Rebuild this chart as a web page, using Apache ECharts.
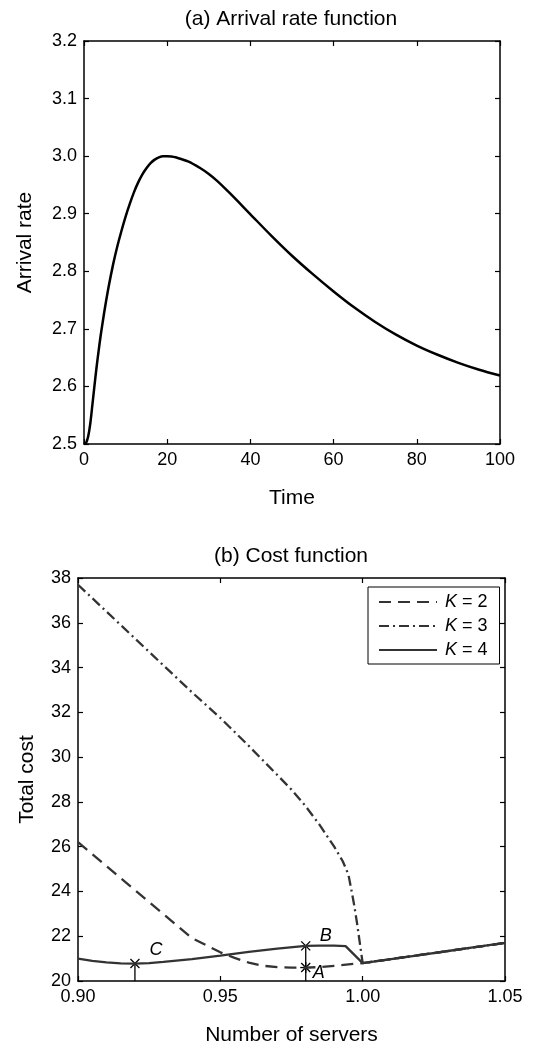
<!DOCTYPE html>
<html>
<head>
<meta charset="utf-8">
<script src="https://cdn.jsdelivr.net/npm/echarts@6/dist/echarts.min.js"></script>
<style>
html,body{margin:0;padding:0;background:#fff;}
#chart{width:535px;height:1047px;}
</style>
</head>
<body>
<div id="chart"></div>
<script>
// ---- Panel (a): arrival rate ----
const timeVals = [0,0.5,1,1.5,2,2.5,3,3.5,4,4.5,5,6,7,8,9,10,11,12,13,14,15,16,17,18,19,20,21,22,25,28,30,32,35,40,45,50,55,60,65,70,75,80,85,90,95,100];
const arrivalVals = [2.5,2.502,2.513,2.535,2.567,2.6,2.632,2.661,2.688,2.712,2.735,2.776,2.812,2.843,2.87,2.895,2.917,2.937,2.954,2.968,2.979,2.988,2.994,2.998,3.0,3.0,2.9995,2.998,2.991,2.979,2.969,2.957,2.936,2.899,2.862,2.827,2.795,2.765,2.737,2.712,2.690,2.671,2.655,2.641,2.629,2.619];
const timeTicks = [0,20,40,60,80,100];
const rateTicks = [2.5,2.6,2.7,2.8,2.9,3.0,3.1,3.2];

// ---- Panel (b): cost function ----
const k2Servers = [0.90,0.91,0.92,0.93,0.94,0.945,0.95,0.955,0.96,0.965,0.97,0.975,0.98,0.985,0.99,0.995,1.0,1.05];
const k2Cost    = [26.2,25.13,24.06,22.99,21.92,21.6,21.28,21.03,20.82,20.68,20.62,20.6,20.6,20.62,20.68,20.74,20.8,21.7];
const k3Servers = [0.90,0.91,0.92,0.93,0.94,0.95,0.96,0.97,0.975,0.98,0.985,0.99,0.993,0.995,0.996,0.997,0.998,0.999,1.0,1.05];
const k3Cost    = [37.7,36.5,35.3,34.1,32.9,31.75,30.5,29.2,28.55,27.8,26.95,26.0,25.35,24.75,24.1,23.4,22.6,21.7,20.8,21.7];
const k4Servers = [0.90,0.905,0.91,0.915,0.92,0.925,0.93,0.94,0.95,0.96,0.97,0.98,0.985,0.99,0.994,1.0,1.01,1.02,1.03,1.04,1.05];
const k4Cost    = [21.0,20.9,20.83,20.79,20.78,20.8,20.85,20.98,21.13,21.3,21.45,21.57,21.58,21.58,21.56,20.8,20.98,21.16,21.34,21.52,21.7];
const seriesNames = ['K = 2','K = 3','K = 4'];
const serverTicks = [0.90,0.95,1.00,1.05];
const costTicks = [20,22,24,26,28,30,32,34,36,38];

const markerLabels = ['A','B','C'];
const markerServers = [0.98,0.98,0.92];
const markerCost = [20.6,21.57,20.78];
const markerShapes = ['star','cross','cross'];
const markerStem = [false,true,true];

const FONT = 'Liberation Sans, Arial, Helvetica, sans-serif';
const TICK = 18, LAB = 21;
const zip = (a,b) => a.map((v,i)=>[v,b[i]]);

function axisCommon(showLabel, fmt) {
  return {
    axisLine:{show:true, onZero:false, lineStyle:{color:'#000', width:1.5}},
    axisTick:{show:true, inside:true, length:5, lineStyle:{color:'#000', width:1.2}},
    axisLabel:{show:showLabel, color:'#000', fontFamily:FONT, fontSize:TICK, margin:7, formatter:fmt},
    splitLine:{show:false}
  };
}

const chart = echarts.init(document.getElementById('chart'), null, {renderer:'canvas'});

const tFmt = v => String(Math.round(v));
const rFmt = v => v.toFixed(1);
const sFmt = v => v.toFixed(2);
const cFmt = v => String(Math.round(v));
const nameStyle = {color:'#000', fontFamily:FONT, fontSize:LAB};

const option = {
  backgroundColor:'#fff',
  animation:false,
  graphic:[
    {type:'text', x:291, y:19, style:{text:'(a) Arrival rate function', font:LAB+'px '+FONT, fill:'#000', align:'center', verticalAlign:'middle'}},
    {type:'text', x:291, y:556, style:{text:'(b) Cost function', font:LAB+'px '+FONT, fill:'#000', align:'center', verticalAlign:'middle'}}
  ],
  grid:[
    {left:84, top:41, width:416, height:403},
    {left:78, top:578, width:427, height:404}
  ],
  xAxis:[
    Object.assign({type:'value', gridIndex:0, position:'bottom', min:timeTicks[0], max:timeTicks[timeTicks.length-1], interval:20,
      name:'Time', nameLocation:'middle', nameGap:44, nameTextStyle:nameStyle}, axisCommon(true, tFmt)),
    Object.assign({type:'value', gridIndex:0, position:'top', min:timeTicks[0], max:timeTicks[timeTicks.length-1], interval:20}, axisCommon(false)),
    Object.assign({type:'value', gridIndex:1, position:'bottom', min:serverTicks[0], max:serverTicks[serverTicks.length-1], interval:0.05,
      name:'Number of servers', nameLocation:'middle', nameGap:44, nameTextStyle:nameStyle}, axisCommon(true, sFmt)),
    Object.assign({type:'value', gridIndex:1, position:'top', min:serverTicks[0], max:serverTicks[serverTicks.length-1], interval:0.05}, axisCommon(false))
  ],
  yAxis:[
    Object.assign({type:'value', gridIndex:0, position:'left', min:rateTicks[0], max:rateTicks[rateTicks.length-1], interval:0.1,
      name:'Arrival rate', nameLocation:'middle', nameGap:48, nameTextStyle:nameStyle}, axisCommon(true, rFmt)),
    Object.assign({type:'value', gridIndex:0, position:'right', min:rateTicks[0], max:rateTicks[rateTicks.length-1], interval:0.1}, axisCommon(false)),
    Object.assign({type:'value', gridIndex:1, position:'left', min:costTicks[0], max:costTicks[costTicks.length-1], interval:2,
      name:'Total cost', nameLocation:'middle', nameGap:40, nameTextStyle:nameStyle}, axisCommon(true, cFmt)),
    Object.assign({type:'value', gridIndex:1, position:'right', min:costTicks[0], max:costTicks[costTicks.length-1], interval:2}, axisCommon(false))
  ],
  legend:{
    data:seriesNames,
    orient:'vertical',
    left:368, top:587,
    padding:[6,12,5,10],
    itemGap:6,
    itemWidth:58,
    itemHeight:18,
    backgroundColor:'#fff',
    borderColor:'#000',
    borderWidth:1,
    borderRadius:0,
    itemStyle:{opacity:0},
    textStyle:{color:'#000', fontFamily:FONT, fontSize:TICK, padding:[0,0,0,3],
      rich:{i:{fontStyle:'italic', fontFamily:FONT, fontSize:TICK, color:'#000'}, n:{fontFamily:FONT, fontSize:TICK, color:'#000'}}},
    formatter: name => '{i|K}{n|' + name.slice(1) + '}'
  },
  series:[
    {type:'line', name:'arrival', xAxisIndex:0, yAxisIndex:0, data:zip(timeVals, arrivalVals), showSymbol:false, symbol:'none',
      smooth:0.3, lineStyle:{color:'#000', width:2.5}},
    {type:'line', name:seriesNames[0], xAxisIndex:2, yAxisIndex:2, data:zip(k2Servers, k2Cost), symbol:'none', smooth:false,
      itemStyle:{color:'#333'}, lineStyle:{color:'#333', width:2.3, type:[12,7]}},
    {type:'line', name:seriesNames[1], xAxisIndex:2, yAxisIndex:2, data:zip(k3Servers, k3Cost), symbol:'none', smooth:false,
      itemStyle:{color:'#333'}, lineStyle:{color:'#333', width:2.3, type:[10,4,2,4]}},
    {type:'line', name:seriesNames[2], xAxisIndex:2, yAxisIndex:2, data:zip(k4Servers, k4Cost), symbol:'none', smooth:false,
      itemStyle:{color:'#333'}, lineStyle:{color:'#333', width:2.3}},
    {type:'custom', name:'markers', xAxisIndex:2, yAxisIndex:2, clip:false,
      data: markerServers.map((x,i)=>[x, markerCost[i], i]),
      renderItem:(params, api) => {
        const i = api.value(2);
        const p = api.coord([api.value(0), api.value(1)]);
        const base = api.coord([api.value(0), costTicks[0]]);
        const s = 4.5;
        const st = {stroke:'#000', lineWidth:1.3};
        const ch = [];
        if (markerStem[i]) ch.push({type:'line', shape:{x1:p[0], y1:base[1], x2:p[0], y2:p[1]}, style:st});
        ch.push({type:'line', shape:{x1:p[0]-s, y1:p[1]-s, x2:p[0]+s, y2:p[1]+s}, style:st});
        ch.push({type:'line', shape:{x1:p[0]-s, y1:p[1]+s, x2:p[0]+s, y2:p[1]-s}, style:st});
        if (markerShapes[i] === 'star') {
          ch.push({type:'line', shape:{x1:p[0], y1:p[1]-s-1, x2:p[0], y2:p[1]+s+1}, style:st});
          ch.push({type:'line', shape:{x1:p[0]-s-1, y1:p[1], x2:p[0]+s+1, y2:p[1]}, style:st});
        }
        const off = i===0 ? [13,5] : (i===1 ? [20,-10] : [21,-14]);
        ch.push({type:'text', x:p[0]+off[0], y:p[1]+off[1],
          style:{text:markerLabels[i], font:'italic '+TICK+'px '+FONT, fill:'#000', align:'center', verticalAlign:'middle'}});
        return {type:'group', children:ch};
      }
    }
  ]
};
chart.setOption(option);
</script>
</body>
</html>
